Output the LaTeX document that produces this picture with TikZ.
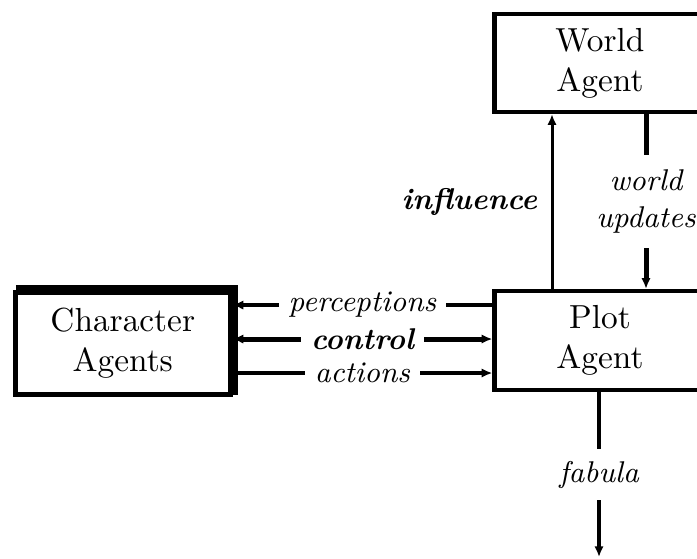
\documentclass[tikz,border=0pt]{standalone}
\usetikzlibrary{arrows.meta}
\begin{document}
\begin{tikzpicture}[x=0.3pt,y=-0.3pt,
  agent/.style={draw, line width=1.3pt, align=center, inner sep=0pt},
  flow/.style={line width=1.3pt},
  bold flow/.style={line width=1.5pt},
  thin flow/.style={line width=0.9pt},
  tip/.style={-{Latex[length=3.2pt,width=2.8pt]}},
  tips/.style={{Latex[length=3.2pt,width=2.8pt]}-{Latex[length=3.2pt,width=2.8pt]}},
  lbl/.style={fill=white, font=\small\itshape, inner xsep=3pt, inner ysep=0.5pt},
  blbl/.style={fill=white, font=\small\bfseries\itshape, inner xsep=3pt, inner ysep=0.5pt}
]
\useasboundingbox (0,0) rectangle (697,558);

% agents
\node[agent, minimum width=63.3pt, minimum height=29.4pt] (world) at (600,63) {World\\Agent};
\node[agent, minimum width=63.3pt, minimum height=29.7pt] (plot) at (600,340.5) {Plot\\Agent};
\node[agent, line width=1.5pt, minimum width=64.4pt, minimum height=30.75pt] (chars) at (122.75,343.25) {Character\\Agents};
% heavier top and right edge of the character box
\draw[line width=1.5pt]
  ([xshift=0.9pt,yshift=0.6pt]chars.north west) -- ([xshift=0.9pt,yshift=0.6pt]chars.north east)
  -- ([xshift=0.9pt,yshift=0.6pt]chars.south east);

% plot <-> characters
\draw[flow, tip] (plot.west |- 0,305) -- (chars.east |- 0,305)
  node[lbl, midway] {perceptions};
\draw[bold flow, tips] (chars.east |- 0,339) -- (plot.west |- 0,339)
  node[blbl, midway] {control};
\draw[flow, tip] (chars.east |- 0,373) -- (plot.west |- 0,373)
  node[lbl, midway] {actions};

% plot <-> world
\draw[thin flow, tip] (plot.north -| 552,0) -- (world.south -| 552,0)
  node[midway, left, font=\small\bfseries\itshape, inner sep=4pt] {influence};
\draw[bold flow, tip] (world.south -| 646,0) -- (plot.north -| 646,0)
  node[midway, fill=white, font=\small\itshape, align=center, inner xsep=2pt, inner ysep=4.5pt] {world\\updates};

% fabula out of the plot agent
\coordinate (fabend) at (599,557);
\draw[flow, tip] (plot.south -| fabend) -- (fabend)
  node[midway, fill=white, font=\small\itshape, inner xsep=3pt, inner ysep=3.5pt] {fabula};
\end{tikzpicture}
\end{document}
